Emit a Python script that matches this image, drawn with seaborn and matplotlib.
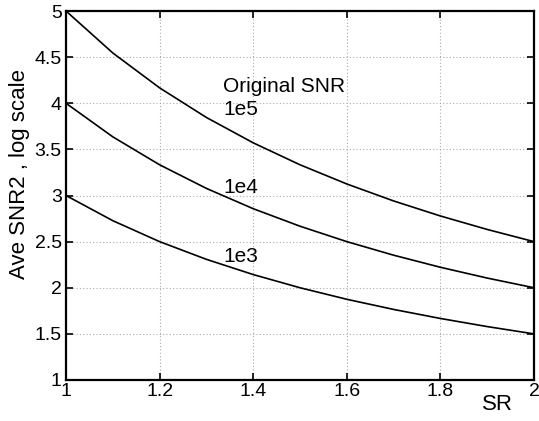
import matplotlib
matplotlib.use("Agg")
import matplotlib.pyplot as plt
import seaborn as sns
import pandas as pd

sr = [1.0, 1.1, 1.2, 1.3, 1.4, 1.5, 1.6, 1.7, 1.8, 1.9, 2.0]
snr_1e5 = [5.0, 4.545, 4.167, 3.846, 3.571, 3.333, 3.125, 2.941, 2.778, 2.632, 2.5]
snr_1e4 = [4.0, 3.636, 3.333, 3.077, 2.857, 2.667, 2.5, 2.353, 2.222, 2.105, 2.0]
snr_1e3 = [3.0, 2.727, 2.5, 2.308, 2.143, 2.0, 1.875, 1.765, 1.667, 1.579, 1.5]
series_names = ["1e5", "1e4", "1e3"]
x_ticks = [1, 1.2, 1.4, 1.6, 1.8, 2]
y_ticks = [1, 1.5, 2, 2.5, 3, 3.5, 4, 4.5, 5]

rows = []
for name, vals in zip(series_names, [snr_1e5, snr_1e4, snr_1e3]):
    for x, y in zip(sr, vals):
        rows.append({"SR": x, "val": y, "snr": name})
df = pd.DataFrame(rows)

sns.set_theme(style="white")
plt.rcParams["font.family"] = ["Liberation Sans", "DejaVu Sans"]
plt.rcParams["text.color"] = "black"
plt.rcParams["axes.labelcolor"] = "black"

fig = plt.figure(figsize=(5.39, 4.21), dpi=100)
ax = fig.add_axes([66/539, 1-380/421, (534-66)/539, (380-11)/421])
sns.lineplot(data=df, x="SR", y="val", hue="snr", palette=["black"]*3,
             linewidth=1.2, legend=False, ax=ax, estimator=None, sort=False)

ax.set_xlim(1, 2)
ax.set_ylim(1, 5)
ax.set_xticks(x_ticks)
ax.set_xticklabels([f"{t:g}" for t in x_ticks])
ax.set_yticks(y_ticks)
ax.set_yticklabels([f"{t:g}" for t in y_ticks])
ax.grid(True, linestyle=(0, (1, 2)), color="#aaaaaa", linewidth=0.8)
ax.tick_params(direction="in", length=5, width=1.2, labelsize=14, colors="black",
               top=True, right=True, bottom=True, left=True)
ax.tick_params(axis="x", pad=2)
ax.tick_params(axis="y", pad=3)
for s in ax.spines.values():
    s.set_linewidth(1.6)
    s.set_color("black")
ax.set_xlabel("")
ax.set_ylabel("Ave SNR2 , log scale", fontsize=16)
ax.yaxis.set_label_coords(-0.077, 0.558)
fig.text(497/539, 1-405/421, "SR", fontsize=16, ha="center", va="center")

ax.text(1.335, 4.122, "Original SNR", fontsize=15, va="baseline", ha="left")
ax.text(1.3355, 3.873, "1e5", fontsize=15, va="baseline", ha="left")
ax.text(1.3355, 3.027, "1e4", fontsize=15, va="baseline", ha="left")
ax.text(1.3355, 2.279, "1e3", fontsize=15, va="baseline", ha="left")

fig.savefig("out.png", dpi=100)
